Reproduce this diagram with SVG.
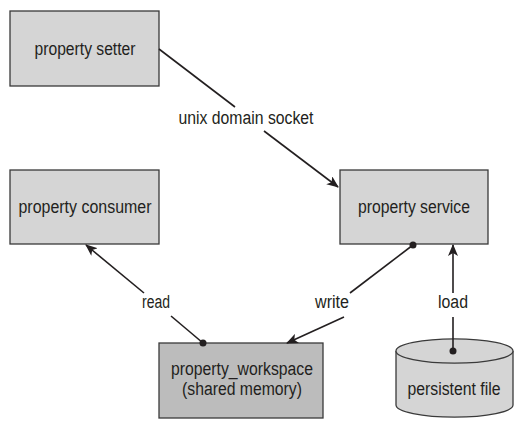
<svg xmlns="http://www.w3.org/2000/svg" width="529" height="427" viewBox="0 0 529 427">
<defs>
<style>
.box{fill:#d5d5d5;stroke:#3a3a3a;stroke-width:1.3}
.dark{fill:#bcbcbc}
.t{font-family:"Liberation Sans Narrow","Liberation Sans",Arial,sans-serif;font-size:18px;fill:#231f20;text-anchor:middle}
.ln{stroke:#231f20;stroke-width:1.6;fill:none}
.dot{fill:#231f20}
</style>
<marker id="ah" viewBox="0 0 12 10" refX="11" refY="5" markerWidth="12" markerHeight="10" markerUnits="userSpaceOnUse" orient="auto">
<path d="M0,0 L12,5 L0,10 L3,5 Z" fill="#231f20"/>
</marker>
</defs>
<rect width="529" height="427" fill="#fff"/>
<g id="setter"><rect class="box" x="10" y="11" width="149" height="75"/><text class="t" x="85" y="55" textLength="101" lengthAdjust="spacingAndGlyphs">property setter</text></g>
<g id="consumer"><rect class="box" x="10" y="170" width="149" height="74"/><text class="t" x="85" y="213" textLength="133" lengthAdjust="spacingAndGlyphs">property consumer</text></g>
<g id="service"><rect class="box" x="340" y="170" width="148" height="74"/><text class="t" x="414" y="213" textLength="112" lengthAdjust="spacingAndGlyphs">property service</text></g>
<g id="workspace"><rect class="box dark" x="159" y="343" width="164" height="75"/><text class="t" x="242" y="375" textLength="142" lengthAdjust="spacingAndGlyphs">property_workspace</text><text class="t" x="242" y="395" textLength="120" lengthAdjust="spacingAndGlyphs">(shared memory)</text></g>
<g id="file"><path class="box" d="M396,351 L396,405 A58,12 0 0 0 513,405 L513,351 A58,12 0 0 0 396,351 Z"/><path class="box" d="M396,351 A58,12 0 0 0 513,351" fill="none"/><text class="t" x="454" y="395" textLength="93" lengthAdjust="spacingAndGlyphs">persistent file</text></g>
<g id="connectors">
<path class="ln" d="M159,49 L235,107"/>
<path class="ln" d="M264,131 L338,187" marker-end="url(#ah)"/>
<text class="t" x="246" y="124" textLength="135" lengthAdjust="spacingAndGlyphs">unix domain socket</text>
<path class="ln" d="M203,343 L171,316"/>
<path class="ln" d="M144,293 L86,245" marker-end="url(#ah)"/>
<circle class="dot" cx="203" cy="343" r="3.5"/>
<text class="t" x="156" y="308" textLength="28" lengthAdjust="spacingAndGlyphs">read</text>
<path class="ln" d="M413,245 L350,293"/>
<path class="ln" d="M344,317 L287,343" marker-end="url(#ah)"/>
<circle class="dot" cx="413" cy="245" r="3.5"/>
<text class="t" x="332" y="308" textLength="34" lengthAdjust="spacingAndGlyphs">write</text>
<path class="ln" d="M453,351 L453,317"/>
<path class="ln" d="M453,293 L453,245" marker-end="url(#ah)"/>
<circle class="dot" cx="453" cy="351" r="3.5"/>
<text class="t" x="453" y="308" textLength="30" lengthAdjust="spacingAndGlyphs">load</text>
</g>
</svg>
